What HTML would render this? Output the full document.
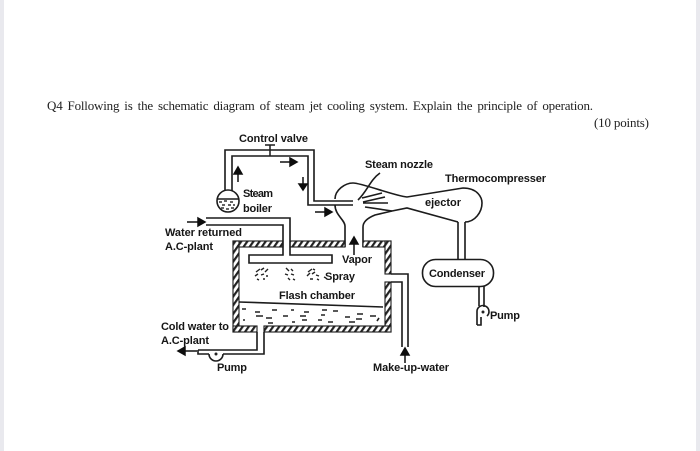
<!DOCTYPE html>
<html><head><meta charset="utf-8"><style>
html,body{margin:0;padding:0;background:#fff;width:700px;height:451px;overflow:hidden}
svg{display:block}
.l{font-family:"Liberation Sans",sans-serif;font-weight:bold;font-size:11px;fill:#161616}
.t{font-family:"Liberation Serif",serif;font-size:13px;word-spacing:2px;fill:#222}
.p{fill:none;stroke:#1a1a1a;stroke-width:1.6}
.h{fill:url(#hatch);stroke:#1a1a1a;stroke-width:1.1}
.d{stroke:#1a1a1a;stroke-width:1.5;fill:none}
</style></head><body>
<svg width="700" height="451" viewBox="0 0 700 451" xmlns="http://www.w3.org/2000/svg">
<defs>
<pattern id="hatch" width="5" height="5" patternUnits="userSpaceOnUse" patternTransform="rotate(35)">
<rect width="5" height="5" fill="#fff"/><rect width="2.200" height="5" fill="#222"/>
</pattern>
<filter id="b" x="0" y="0" width="100%" height="100%"><feGaussianBlur stdDeviation="0.35"/></filter>
</defs>
<rect x="0" y="0" width="4" height="451" fill="#e9e9ee"/>
<rect x="696" y="0" width="4" height="451" fill="#e9e9ee"/>
<g filter="url(#b)">
<text class="t" x="47" y="110" textLength="546" lengthAdjust="spacing">Q4 Following is the schematic diagram of steam jet cooling system. Explain the principle of operation.</text>
<text class="t" style="word-spacing:0" x="594" y="127" textLength="55" lengthAdjust="spacing">(10 points)</text>

<!-- steam pipe -->
<path class="p" d="M225,191V150H314V201H353"/>
<path class="p" d="M232,191V156H308V205H353"/>
<path class="d" d="M270,156V145M265,145H275"/>
<!-- boiler -->
<circle cx="228" cy="201" r="11" fill="#fff" stroke="#1a1a1a" stroke-width="1.6"/>
<path class="p" d="M217,199H239"/>
<path d="M219,202h3M224,201h3M230,202h3M222,205h3M228,205h3M233,205h2M221,208h3M226,209h3M231,208h3" stroke="#333" stroke-width="1.5" fill="none"/>

<!-- ejector -->
<path class="p" d="M335,199C335,190 345,183 353,183C362,183 395,196 407,197L463,188C478,188 482,198 482,203C482,212 475,222 465,222"/>
<path class="p" d="M458,222L407,208L392,211L375,215C365,219 363,224 363,227V247"/>
<path class="p" d="M335,205C335,215 345,220 345,226V247"/>
<path class="p" d="M358,200C368,190 370,180 380,173"/>
<path class="p" d="M362,198L382,193M363,202L385,197M363,203L388,203M365,207L392,211"/>
<path class="p" d="M458,222V260M465,222V260"/>

<!-- condenser -->
<rect x="422.500" y="259.500" width="71" height="27" rx="13" fill="#fff" stroke="#1a1a1a" stroke-width="1.6"/>
<path class="p" d="M479,286V306M484,286V307"/>
<path class="p" d="M477,325V311A6,6 0 1 1 487,316M477,325H481V317"/>
<circle cx="483" cy="312" r="1.500" fill="#222"/>

<!-- flash chamber walls -->
<rect class="h" x="233" y="241" width="50" height="6"/>
<rect class="h" x="290" y="241" width="55" height="6"/>
<rect class="h" x="363" y="241" width="28" height="6"/>
<rect class="h" x="233" y="241" width="6" height="91"/>
<rect class="h" x="385" y="241" width="6" height="33"/>
<rect class="h" x="385" y="282" width="6" height="50"/>
<rect class="h" x="233" y="326" width="24" height="6"/>
<rect class="h" x="264" y="326" width="127" height="6"/>

<!-- water returned + header -->
<path class="p" d="M206,218H290V255H332V263H300"/>
<path class="p" d="M206,225H283V255H249V263H270"/>
<path class="p" d="M270,263H300"/>

<!-- spray -->
<path d="M256,272l4,-3M261,270l3,-2M265,272l3,-3M255,276l3,-2M261,275l3,-1M266,276l2,0M257,279l2,1M263,279l2,0M286,268l3,3M291,269l2,2M285,274l3,1M291,274l3,1M288,278l2,2M293,279l2,1M308,272l4,-3M313,269l2,1M307,276l3,-3M312,274l3,-2M316,275l3,1M310,279l3,0M317,279l2,1M324,277l2,1" stroke="#222" stroke-width="1.4" fill="none"/>

<!-- water surface -->
<path class="p" d="M239,302L383,307"/>
<path d="M242,309h4M255,312h5M272,310h5M291,310h3M304,312h5M322,310h5M333,311h5M256,316h7M266,318h6M283,316h5M300,316h6M321,315h4M345,317h5M357,314h6M356,319h6M370,316h6M243,320h2M268,323h5M292,322h3M302,320h5M318,320h4M328,322h5M349,322h6M379,318l-2,3" stroke="#222" stroke-width="1.6" fill="none"/>

<!-- makeup -->
<path class="p" d="M391,274H408V347"/>
<path class="p" d="M391,282H402V347"/>

<!-- outlet + pump -->
<path class="p" d="M257,332V350H198"/>
<path class="p" d="M264,332V354H223"/>
<path class="p" d="M198,350V354H209"/>
<path class="p" d="M209,354A7,7 0 0 0 223,354"/>
<circle cx="216" cy="354" r="1.500" fill="#222"/>

<!-- arrows -->
<g fill="#111" stroke="#111" stroke-width="1.5">
<path d="M238,182V172" fill="none"/><path d="M234,174L238,167L242,174Z"/>
<path d="M280,162H291" fill="none"/><path d="M290,158L297,162L290,166Z"/>
<path d="M303,177V185" fill="none"/><path d="M299,184L303,190L307,184Z"/>
<path d="M315,212H326" fill="none"/><path d="M325,208L332,212L325,216Z"/>
<path d="M187,222H199" fill="none"/><path d="M198,218L205,222L198,226Z"/>
<path d="M354,255V243" fill="none"/><path d="M350,244L354,237L358,244Z"/>
<path d="M405,363V354" fill="none"/><path d="M401,355L405,348L409,355Z"/>
<path d="M197,351H184" fill="none"/><path d="M185,347L178,351L185,355Z"/>
</g>

<!-- labels -->
<text class="l" x="239" y="142" textLength="69">Control valve</text>
<text class="l" x="365" y="168" textLength="68">Steam nozzle</text>
<text class="l" x="445" y="182" textLength="101">Thermocompresser</text>
<text class="l" x="425" y="206" textLength="36">ejector</text>
<text class="l" x="243" y="197" textLength="30">Steam</text>
<text class="l" x="243" y="212" textLength="29">boiler</text>
<text class="l" x="165" y="236" textLength="77">Water returned</text>
<text class="l" x="165" y="250" textLength="48">A.C-plant</text>
<text class="l" x="342" y="263" textLength="30">Vapor</text>
<text class="l" x="325" y="280" textLength="30">Spray</text>
<text class="l" x="279" y="299" textLength="76">Flash chamber</text>
<text class="l" x="161" y="330" textLength="68">Cold water to</text>
<text class="l" x="161" y="344" textLength="48">A.C-plant</text>
<text class="l" x="217" y="371" textLength="30">Pump</text>
<text class="l" x="373" y="371" textLength="76">Make-up-water</text>
<text class="l" x="429" y="277" textLength="56">Condenser</text>
<text class="l" x="490" y="319" textLength="30">Pump</text>
</g>
</svg>
</body></html>
